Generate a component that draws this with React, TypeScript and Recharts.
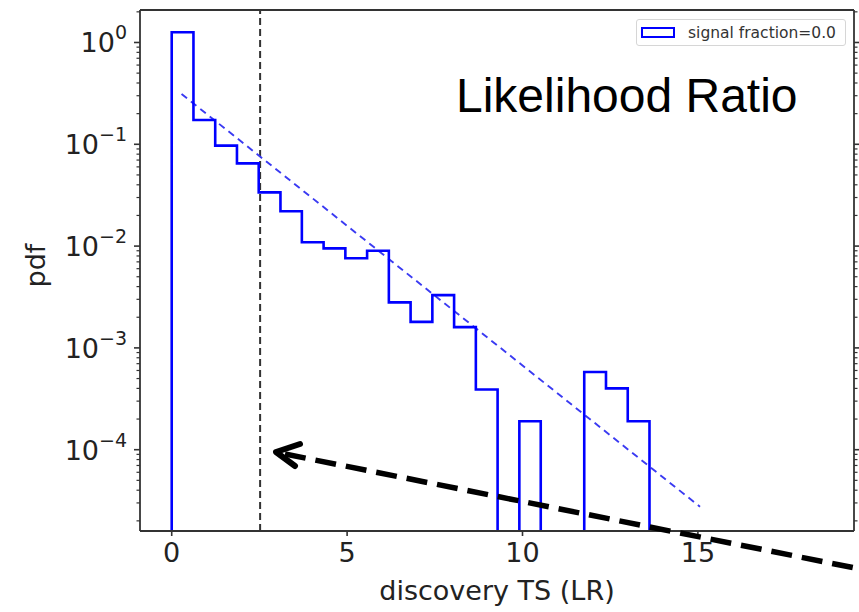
import { Line, LineChart, ReferenceLine, XAxis, YAxis } from "recharts";

// histogram of the discovery test statistic (22 bins, step outline)
const binEdges = [
  0, 0.62, 1.24, 1.86, 2.48, 3.1, 3.71, 4.33, 4.95, 5.57, 6.19, 6.81, 7.43, 8.05, 8.67, 9.29, 9.91,
  10.52, 11.14, 11.76, 12.38, 13.0, 13.62,
];
const pdfValues = [
  1.26, 0.173, 0.097, 0.065, 0.0337, 0.022, 0.0109, 0.0095, 0.0076, 0.009, 0.0028, 0.0018, 0.0033,
  0.0016, 0.00039, 0, 0.00019, 0, 0, 0.00058, 0.0004, 0.00019,
];

// exponential fit (straight on the log axis)
const fitTS = [0.28, 15.06];
const fitPdf = [0.312, 2.75e-5];

const thresholdTS = 2.52;
const xTicks = [0, 5, 10, 15];
const yDecades = [-5, -4, -3, -2, -1, 0];
const legendLabel = "signal fraction=0.0";
const title = "Likelihood Ratio";

const W = 859;
const H = 612;
const X_DOMAIN = [-0.904, 19.45];
const Y_MIN = 1.59e-5;
const Y_MAX = 2.085;
const FLOOR = 1e-9; // empty bins fall off the bottom of the log axis

const AXIS = "#333";
const FONT = "'DejaVu Sans', sans-serif";

const stepData = [
  { ts: binEdges[0], pdf: FLOOR },
  ...pdfValues.map((v, i) => ({ ts: binEdges[i], pdf: v > 0 ? v : FLOOR })),
  { ts: binEdges[binEdges.length - 1], pdf: FLOOR },
];
const fitData = fitTS.map((ts, i) => ({ ts, pdf: fitPdf[i] }));

const yTicks: number[] = [];
yDecades.forEach((e) => {
  for (let m = 1; m <= 9; m++) {
    const v = m * Math.pow(10, e);
    if (v >= Y_MIN && v <= Y_MAX) yTicks.push(v);
  }
});

function decade(v: number) {
  const e = Math.round(Math.log10(v));
  return { e, major: Math.abs(v / Math.pow(10, e) - 1) < 1e-6 };
}

function LeftTick(props: any) {
  const { x, y, payload } = props;
  const { e, major } = decade(payload.value);
  return (
    <g>
      <line x1={x - (major ? 6 : 3.5)} x2={x} y1={y} y2={y} stroke={AXIS} strokeWidth={major ? 1.6 : 1.2} />
      {major && (
        <text x={x - 13} y={y + 10} textAnchor="end" fontFamily={FONT} fontSize={27} fill="#222">
          10
          <tspan dy={-13} fontSize={19}>
            {e < 0 ? `\u2212${-e}` : `${e}`}
          </tspan>
        </text>
      )}
    </g>
  );
}

function RightTick(props: any) {
  const { x, y, payload } = props;
  const { major } = decade(payload.value);
  return <line x1={x} x2={x + (major ? 6 : 3.5)} y1={y} y2={y} stroke={AXIS} strokeWidth={major ? 1.6 : 1.2} />;
}

function BottomTick(props: any) {
  const { x, y, payload } = props;
  return (
    <g>
      <line x1={x} x2={x} y1={y} y2={y + 5} stroke={AXIS} strokeWidth={1.6} />
      <text x={x} y={y + 31} textAnchor="middle" fontFamily={FONT} fontSize={27} fill="#222">
        {payload.value}
      </text>
    </g>
  );
}

function PdfLabel(props: any) {
  const { viewBox } = props;
  const cx = 35;
  const cy = viewBox.y + viewBox.height / 2 - 5;
  return (
    <text
      x={cx}
      y={cy}
      transform={`rotate(-90 ${cx} ${cy})`}
      textAnchor="middle"
      dominantBaseline="central"
      fontFamily={FONT}
      fontSize={27}
      fill="#222"
    >
      pdf
    </text>
  );
}

export default function App() {
  return (
    <div style={{ position: "absolute", left: 0, top: 0, width: W, height: H, background: "#fff" }}>
      <LineChart width={W} height={H} margin={{ top: 0, right: 0, bottom: 0, left: 0 }}>
        <XAxis
          dataKey="ts"
          type="number"
          domain={X_DOMAIN}
          allowDataOverflow
          ticks={xTicks}
          interval={0}
          height={81}
          tickSize={0}
          tickMargin={0}
          tick={<BottomTick />}
          axisLine={{ stroke: AXIS, strokeWidth: 1.8 }}
          label={{
            value: "discovery TS (LR)",
            position: "insideBottom",
            offset: 12,
            fontFamily: FONT,
            fontSize: 27,
            fill: "#222",
          }}
        />
        <XAxis
          xAxisId="top"
          orientation="top"
          type="number"
          domain={X_DOMAIN}
          allowDataOverflow
          height={10}
          tick={false}
          tickLine={false}
          axisLine={{ stroke: AXIS, strokeWidth: 1.8 }}
        />
        <YAxis
          type="number"
          scale="log"
          domain={[Y_MIN, Y_MAX]}
          allowDataOverflow
          ticks={yTicks}
          interval={0}
          width={140}
          tickSize={0}
          tickMargin={0}
          tick={<LeftTick />}
          axisLine={{ stroke: AXIS, strokeWidth: 1.8 }}
          label={<PdfLabel />}
        />
        <YAxis
          yAxisId="right"
          orientation="right"
          type="number"
          scale="log"
          domain={[Y_MIN, Y_MAX]}
          allowDataOverflow
          ticks={yTicks}
          interval={0}
          width={5}
          tickSize={0}
          tickMargin={0}
          tick={<RightTick />}
          axisLine={{ stroke: AXIS, strokeWidth: 1.8 }}
        />
        <ReferenceLine x={thresholdTS} stroke="#333" strokeWidth={2} strokeDasharray="7 4" />
        <Line
          data={fitData}
          dataKey="pdf"
          type="linear"
          stroke="#3a3af2"
          strokeWidth={1.9}
          strokeDasharray="7 5"
          dot={false}
          isAnimationActive={false}
        />
        <Line
          data={stepData}
          dataKey="pdf"
          type="stepAfter"
          stroke="#0000ff"
          strokeWidth={2.6}
          dot={false}
          isAnimationActive={false}
        />
      </LineChart>

      <div
        style={{
          position: "absolute",
          left: 636,
          top: 19,
          width: 210,
          height: 27,
          border: "1px solid #d6d6d6",
          borderRadius: 3,
          background: "#fff",
          display: "flex",
          alignItems: "center",
          fontFamily: FONT,
          fontSize: 15.5,
          color: "#333",
          boxSizing: "border-box",
        }}
      >
        <span
          style={{
            display: "inline-block",
            width: 30,
            height: 7,
            border: "2px solid #0000ff",
            marginLeft: 4,
            marginRight: 13,
          }}
        />
        <span>{legendLabel}</span>
      </div>

      <svg
        width={W}
        height={H}
        style={{ position: "absolute", left: 0, top: 0, pointerEvents: "none", overflow: "hidden" }}
      >
        <text x={456} y={112} fontFamily="'Liberation Sans', Arial, sans-serif" fontSize={48} fill="#000">
          {title}
        </text>
        <line x1={285} y1={454} x2={880} y2={573} stroke="#000" strokeWidth={5.5} strokeDasharray="21 10" />
        <polyline
          points="300,444 276,452 295,466"
          fill="none"
          stroke="#000"
          strokeWidth={6}
          strokeLinecap="round"
          strokeLinejoin="round"
        />
      </svg>
    </div>
  );
}
